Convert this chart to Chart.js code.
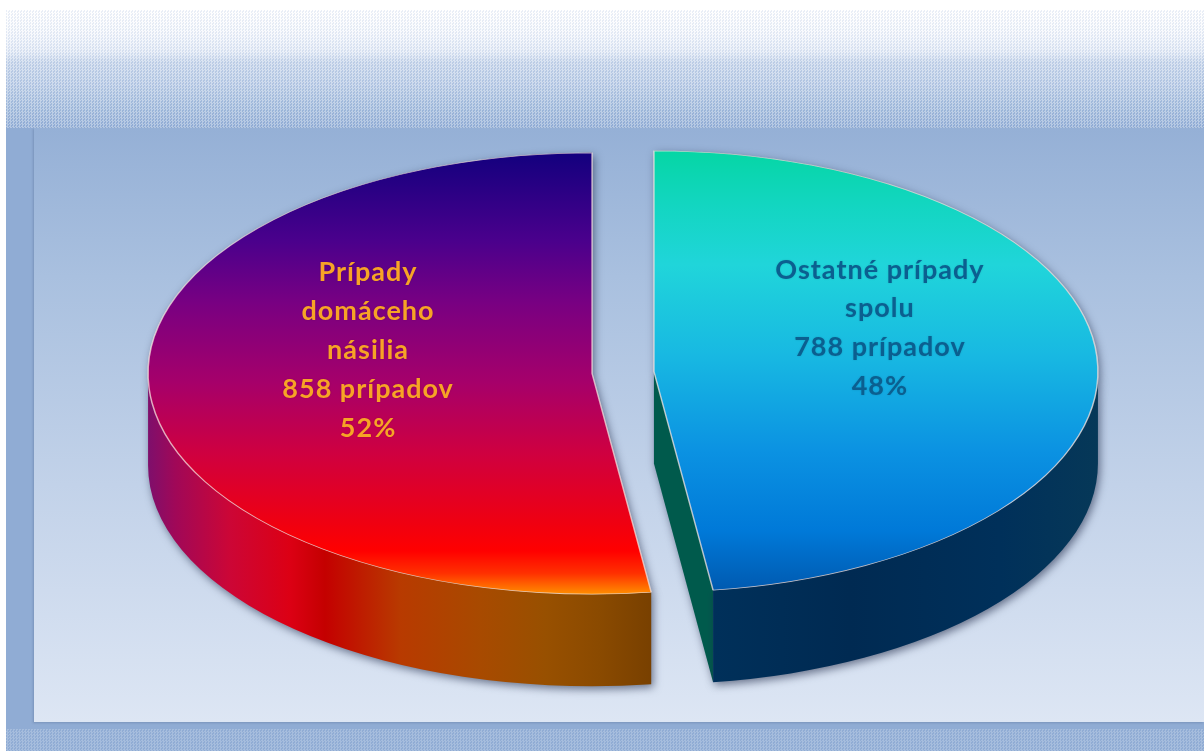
<!DOCTYPE html>
<html lang="sk">
<head>
<meta charset="utf-8">
<title>Prípady domáceho násilia</title>
<script src="https://cdn.jsdelivr.net/npm/chart.js@4/dist/chart.umd.min.js"></script>
<style>
	html, body { margin: 0; background: #fff; overflow: hidden; }
	#stage { position: relative; width: 1204px; height: 751px; }
	#outer { position: absolute; left: 6px; top: 10px; right: 0; bottom: 0; background: #90acd4; }
	#band { position: absolute; left: 0; right: 0; top: 0; height: 118px;
		background:
			repeating-conic-gradient(rgba(255,255,255,.3) 0 25%, rgba(110,145,200,.14) 0 50%) 0 0 / 3px 3px,
			linear-gradient(#fff 0, #f6f8fc 22px, #e4ebf6 42px, #c9d7eb 52px, #b9cbe5 75px, #a6bedd 95px, #94afd6 118px);
	}
	#foot { position: absolute; left: 0; right: 0; bottom: 0; height: 22px;
		background:
			repeating-conic-gradient(rgba(255,255,255,.2) 0 25%, transparent 0 50%) 0 0 / 3px 3px,
			#90acd4;
	}
	#panel { position: absolute; left: 34px; top: 128px; right: 0; height: 594px;
		background: linear-gradient(#95b0d6 0, #a9c0df 25%, #c2d2e9 60%, #dde6f4 100%);
		box-shadow: -1px 1px 2px rgba(70,90,130,.3);
	}
	canvas { position: absolute; left: 0; top: 0; filter: blur(.7px); }
</style>
</head>
<body>
<div id="stage">
	<div id="outer"><div id="band"></div><div id="foot"></div></div>
	<div id="panel"></div>
	<canvas id="pieChart" width="1204" height="751"></canvas>
</div>
<script>
// slices run clockwise from 12 o'clock, same as the picture
const categories = ['Ostatné prípady spolu', 'Prípady domáceho násilia'];
const values = [788, 858];
const nameLines = [['Ostatné prípady', 'spolu'], ['Prípady', 'domáceho', 'násilia']];
const unit = 'prípadov';

// tilt of the fake 3D disc
const squash = 0.497;
const depth = 92;
const explode = 31;

function topGradient(chart, stops) {
	// options get resolved once before the first layout
	if (!chart.chartArea) return '#000';
	const ctx = chart.ctx;
	const cy = (chart.chartArea.top + chart.chartArea.bottom) / 2;
	const yTop = cy - 222 / squash;
	const yBottom = cy + 222 / squash;
	const g = ctx.createLinearGradient(0, yTop, 0, yBottom);
	stops.forEach(s => g.addColorStop(s[0], s[1]));
	return g;
}

function wallGradient(ctx, stops) {
	const g = ctx.createLinearGradient(148, 0, 1098, 0);
	stops.forEach(s => g.addColorStop((s[0] - 148) / 950, s[1]));
	return g;
}

const rightTop = [[0, '#05d6a4'], [0.12, '#12d6c0'], [0.26, '#20d5da'], [0.46, '#18b9e2'], [0.68, '#0b92e2'], [0.86, '#0079d8'], [1, '#0058ae']];
const leftTop = [[0, '#12007e'], [0.2, '#4a008c'], [0.34, '#780082'], [0.52, '#a6006a'], [0.68, '#cf0040'], [0.84, '#f00010'], [0.9, '#ff0000'], [0.95, '#ff3000'], [1, '#ff9400']];
const leftWall = [[148, '#7e0f6c'], [175, '#a00858'], [230, '#cc0636'], [290, '#dc0014'], [325, '#c40000'], [400, '#b83a00'], [480, '#a84a00'], [545, '#985000'], [600, '#8a4a00'], [652, '#784000']];
const rightWall = [[714, '#00305a'], [850, '#002a52'], [1000, '#00305a'], [1098, '#063858']];

// the built-in offset option grows and narrows the arcs, so pull the slices apart here instead
function arcShift(arc) {
	const mid = (arc.startAngle + arc.endAngle) / 2;
	return { x: Math.cos(mid) * explode, y: Math.sin(mid) * explode };
}

const disc3d = {
	id: 'disc3d',
	beforeDatasetsDraw(chart) {
		const ctx = chart.ctx;
		const arcs = chart.getDatasetMeta(0).data;
		const cy = arcs[0].y;

		arcs.forEach((arc, i) => {
			const s = arcShift(arc);
			const x = arc.x + s.x;
			const r = arc.outerRadius;
			const rimY = cy + s.y * squash;
			const a = Math.max(arc.startAngle, 0);
			const b = Math.min(arc.endAngle, Math.PI);

			ctx.save();
			ctx.shadowColor = 'rgba(30,40,70,.6)';
			ctx.shadowBlur = 9;
			ctx.shadowOffsetX = 2;
			ctx.shadowOffsetY = 3;

			// soft shadow of the top face on the panel
			ctx.fillStyle = '#556';
			ctx.beginPath();
			ctx.moveTo(x, rimY);
			ctx.ellipse(x, rimY, r, r * squash, 0, arc.startAngle, arc.endAngle);
			ctx.closePath();
			ctx.fill();

			// flat cut face, only the right slice shows it
			if (i === 0) {
				const ex = x + Math.cos(arc.endAngle) * r;
				const ey = rimY + Math.sin(arc.endAngle) * r * squash;
				ctx.fillStyle = '#005a4c';
				ctx.beginPath();
				ctx.moveTo(x, rimY);
				ctx.lineTo(ex, ey);
				ctx.lineTo(ex, ey + depth);
				ctx.lineTo(x, rimY + depth);
				ctx.closePath();
				ctx.fill();
			}

			// round outer wall
			ctx.fillStyle = wallGradient(ctx, i === 0 ? rightWall : leftWall);
			ctx.beginPath();
			ctx.ellipse(x, rimY, r, r * squash, 0, a, b);
			ctx.ellipse(x, rimY + depth, r, r * squash, 0, b, a, true);
			ctx.closePath();
			ctx.fill();
			ctx.restore();
		});

		// top faces, the library's own arcs under a squashed transform
		arcs.forEach(arc => {
			const s = arcShift(arc);
			ctx.save();
			ctx.translate(s.x, cy + s.y * squash);
			ctx.scale(1, squash);
			ctx.translate(0, -cy);
			arc.draw(ctx);
			ctx.restore();
		});

		const total = values.reduce((sum, v) => sum + v, 0);
		ctx.save();
		ctx.font = 'bold 27px Lato';
		ctx.letterSpacing = '1px';
		ctx.textAlign = 'center';
		ctx.textBaseline = 'middle';
		ctx.shadowColor = 'rgba(0,0,0,.15)';
		ctx.shadowBlur = 2;
		arcs.forEach((arc, i) => {
			const lines = nameLines[i].concat([values[i] + ' ' + unit, Math.round(values[i] / total * 100) + '%']);
			const x = arc.x + arcShift(arc).x + (i === 0 ? 226 : -224);
			const y = i === 0 ? 270 : 272;
			ctx.fillStyle = i === 0 ? '#0b5f90' : '#f7a326';
			lines.forEach((line, n) => ctx.fillText(line, x, y + n * (i === 0 ? 38.7 : 39)));
		});
		ctx.restore();

		// everything is drawn, skip the default dataset pass
		return false;
	}
};

document.addEventListener('DOMContentLoaded', function () {
	const ctx = document.getElementById('pieChart').getContext('2d');
	new Chart(ctx, {
		type: 'pie',
		data: {
			labels: categories,
			datasets: [{
				data: values,
				clip: false,
				backgroundColor: function (c) {
					return topGradient(c.chart, c.dataIndex === 0 ? rightTop : leftTop);
				},
				borderColor: 'rgba(255,235,230,.7)',
				borderWidth: 1.5
			}]
		},
		options: {
			responsive: false,
			animation: false,
			radius: 444,
			layout: { padding: { left: 42, bottom: 6 } },
			plugins: {
				legend: { display: false },
				tooltip: { enabled: false }
			}
		},
		plugins: [disc3d]
	});
});
</script>
</body>
</html>
